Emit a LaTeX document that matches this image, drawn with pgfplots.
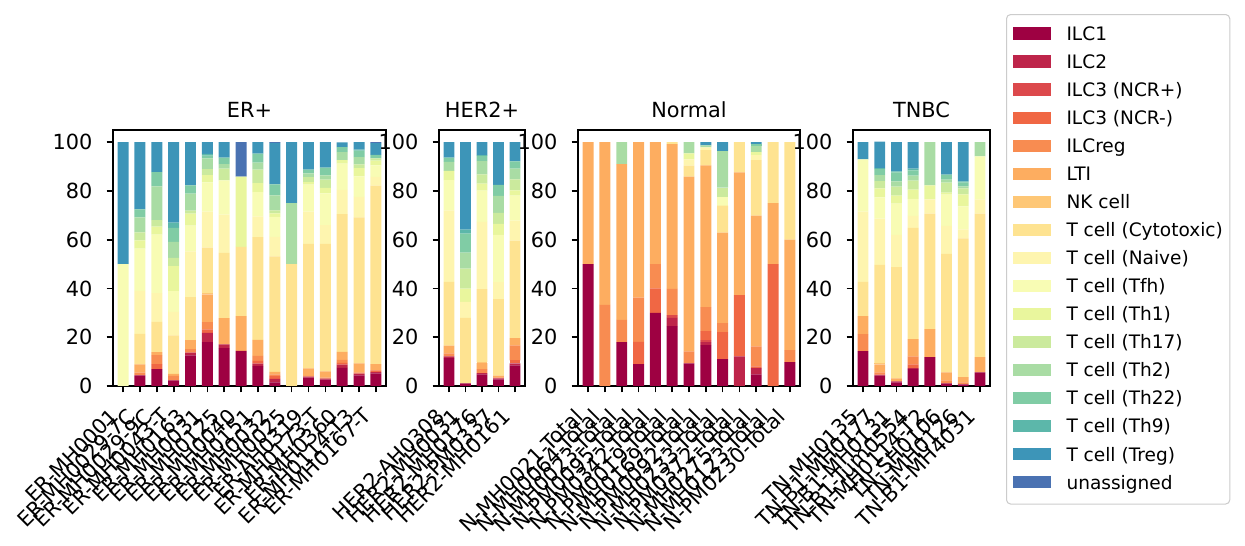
\documentclass[border=0pt]{standalone}
\usepackage{fontspec}
\setmainfont{DejaVu Sans}
\usepackage{pgfplots}
\usepackage{pgfplotstable}
\pgfplotsset{compat=1.18}
\definecolor{col1}{HTML}{9E0142}
\definecolor{col2}{HTML}{BE254A}
\definecolor{col3}{HTML}{DC494C}
\definecolor{col4}{HTML}{F06744}
\definecolor{col5}{HTML}{F88C51}
\definecolor{col6}{HTML}{FDAD60}
\definecolor{col7}{HTML}{FEC776}
\definecolor{col8}{HTML}{FEE391}
\definecolor{col9}{HTML}{FEF5AF}
\definecolor{col10}{HTML}{F8FCB4}
\definecolor{col11}{HTML}{E9F69D}
\definecolor{col12}{HTML}{CBEA9D}
\definecolor{col13}{HTML}{A9DCA4}
\definecolor{col14}{HTML}{80CCA5}
\definecolor{col15}{HTML}{5CB7AA}
\definecolor{col16}{HTML}{3D95B8}
\definecolor{col17}{HTML}{4A72B2}

% columns: ILC1 ILC2 ILC3(NCR+) ILC3(NCR-) ILCreg LTI NK Cyto Naive Tfh Th1 Th17 Th2 Th22 Th9 Treg unassigned
\pgfplotstableread{
c1 c2 c3 c4 c5 c6 c7 c8 c9 c10 c11 c12 c13 c14 c15 c16 c17
0 0 0 0 0 0 0 0 0 50 0 0 0 0 0 50 0
4.4 0 0 0 1.1 3.4 0 12.5 17.6 17.3 3.4 3.3 6.2 3.2 0 27.6 0
6.9 0 0 2.1 3.7 1.2 0 12.4 11.8 24.0 3.3 2.6 13.9 5.8 0 12.3 0
2.3 0 0 0 1.9 0.8 0 15.8 9.6 8.5 10.3 3.3 6.6 5.8 2.1 33.0 0
12.6 1.1 0 0 1.4 3.7 0 17.7 18.7 10.6 4.9 1.2 7.0 3.4 0 17.7 0
18.0 3.8 0 1.4 3.0 11.4 0.4 18.8 14.7 12.0 3.0 2.5 4.4 1.1 0.7 4.8 0
15.5 1.6 0 0 0 10.7 0 26.8 15.7 14.0 0 4.9 1.8 2.7 0 6.3 0
14.4 0 0 0 0 14.3 0 28.4 0 0 28.8 0 0 0 0 0 14.1
8.2 1.0 0 1.1 2.1 6.5 0 42.2 8.5 9.9 3.7 5.5 2.9 3.7 0 4.7 0
1.5 1.4 0 1.2 0.7 1.0 0 47.4 8.0 8.2 1.4 1.2 6.2 4.5 0 17.0 0.3
0 0 0 0 0 0 0 50.0 0 0 0 0 25.0 0 0 25.0 0
3.4 0.4 0 0 0.4 3.0 0 51.1 13.2 11.1 1.0 2.1 1.5 1.5 0 11.3 0
2.6 0.4 0 0 0.4 2.6 0 52.3 7.7 13.0 2.3 3.3 1.8 3.2 0 10.4 0
7.4 1.4 0 0.7 1.2 3.3 0 56.5 9.9 10.8 1.4 0 3.3 2.1 0 1.9 0
4.4 0.7 0 0 0.5 3.7 0 59.9 8.4 8.4 3.4 1.5 3.0 2.6 0.5 3.0 0
5.2 0.5 0 0.7 0 2.6 0 73.2 3.6 4.7 1.9 1.0 0 1.4 0 4.8 0.4
}\ERtab

\pgfplotstableread{
c1 c2 c3 c4 c5 c6 c7 c8 c9 c10 c11 c12 c13 c14 c15 c16 c17
11.4 0.8 0 0 1.2 3.2 0 26.1 29.3 12.4 3.8 0 3.7 1.8 0 6.3 0
1.1 0 0 0 0 0 0 26.8 6.6 0 5.4 8.2 6.6 7.8 1.6 35.9 0
4.8 0.5 0 0 1.6 2.5 0.4 29.9 27.6 12.8 2.9 3.8 5.4 2.2 0.3 5.3 0
2.7 0.4 0 0 0.4 0.8 0 31.3 7.0 19.4 4.5 4.5 7.0 4.5 0 17.5 0
8.5 0.8 0 1.2 6.2 2.9 0 40.0 8.2 10.3 2.1 4.5 4.5 2.9 0 7.9 0
}\HERtab

\pgfplotstableread{
c1 c2 c3 c4 c5 c6 c7 c8 c9 c10 c11 c12 c13 c14 c15 c16 c17
50.0 0 0 0 0 50.0 0 0 0 0 0 0 0 0 0 0 0
0 0 0 0 33.3 66.7 0 0 0 0 0 0 0 0 0 0 0
18.0 0 0 0 9.1 63.9 0 0 0 0 0 0 9.0 0 0 0 0
9.0 0 0 9.1 18.1 63.8 0 0 0 0 0 0 0 0 0 0 0
30.0 0 0 10.0 10.0 50.0 0 0 0 0 0 0 0 0 0 0 0
24.6 3.3 1.2 0 10.7 59.4 0 0.8 0 0 0 0 0 0 0 0 0
9.3 0 0 0 4.9 71.7 0 4.5 2.5 0 2.5 0 4.6 0 0 0 0
16.8 1.2 0.8 3.7 9.9 58.1 0 6.2 1.2 0 0 0 0.8 0 0 1.3 0
11.0 0 0 11.1 3.7 37.1 0 11.1 0 3.7 0 3.7 14.9 0 0 3.7 0
0 12.2 0 25.1 0 50.3 0 12.4 0 0 0 0 0 0 0 0 0
4.8 2.5 0 0.8 8.2 53.6 0 22.7 2.1 0 1.2 0 2.5 0.8 0 0.8 0
0 0 0 50.0 0 25.0 0 25.0 0 0 0 0 0 0 0 0 0
9.8 0 0 0 4.9 45.3 0 40.0 0 0 0 0 0 0 0 0 0
}\NORMtab

\pgfplotstableread{
c1 c2 c3 c4 c5 c6 c7 c8 c9 c10 c11 c12 c13 c14 c15 c16 c17
14.3 0 0 0 7.0 7.4 0 14.0 28.8 21.5 0 0 0 0 0 7.0 0
4.4 0 0 0.4 0.8 3.3 0.4 40.4 19.0 8.7 3.7 2.9 2.5 2.5 0.4 10.8 0
1.5 0.4 0 0 0 1.2 0 45.7 13.2 12.8 3.3 3.7 2.1 3.7 0.4 12.0 0
6.9 0.4 0 1.6 3.3 7.0 0 45.7 4.9 7.0 3.7 3.7 2.1 2.1 0.8 10.8 0
11.8 0 0 0 0 11.5 0 47.4 5.8 0 5.8 0 17.7 0 0 0 0
1.1 0 0 0 1.2 3.3 0 48.6 11.5 12.8 0.8 4.1 1.2 2.1 0 13.3 0
0.7 0 0 0 0.8 2.1 0 56.9 3.7 9.5 4.9 2.5 0.8 1.6 0.4 16.1 0
5.6 0 0 0 0 6.2 0 58.9 5.8 17.7 0 0 5.8 0 0 0 0
}\TNtab

\pgfplotsset{
  every axis title/.style={at={(0.5,1)}, anchor=base, yshift=6bp, inner sep=0bp},
  panel/.style={
    scale only axis, anchor=south west, height=122.88bp,
    ymin=0, ymax=105, ytick={0,20,...,100},
    ybar stacked, bar width=0.65,
    tick align=outside, tick pos=left, major tick length=3.1bp,
    axis line style={line width=0.8bp, black},
    every tick/.style={black, line width=0.8bp},
    font=\fontsize{10bp}{12bp}\selectfont,
    /pgf/number format/assume math mode=true,
    xticklabel style={xshift=-7bp, yshift=-6.6bp, rotate=45, anchor=north east,
      inner sep=0bp, text height=0.76em, text depth=0.24em},
    yticklabel style={inner sep=0bp, xshift=-6.6bp},
  }
}

\begin{document}
\begin{tikzpicture}
\path[use as bounding box] (0,0) rectangle (597.6bp,262.08bp);

\begin{axis}[panel, at={(54.24bp,76.8bp)}, width=131.04bp,
  xmin=-0.6, xmax=15.6, xtick={0,...,15},
  xticklabels={ER-MH0001,ER-MH0029-7C,ER-MH0029-9C,ER-MH0043-T,ER-MH0163,ER-MH0031,ER-MH0125,ER-MH0040,ER-MH0151,ER-MH0032,ER-MH0025,ER-AH0319,ER-MH0173-T,ER-MH0360,ER-MH0114-T3,ER-MH0167-T},
  title={ER+}]
\pgfplotsinvokeforeach{1,...,17}{\addplot[fill=col#1, draw=none] table[x expr=\coordindex, y=c#1] {\ERtab};}
\end{axis}

\begin{axis}[panel, at={(210.72bp,76.8bp)}, width=41.28bp,
  xmin=-0.6, xmax=4.6, xtick={0,...,4},
  xticklabels={HER2-AH0308,HER2-MH0031,HER2-MH0176,HER2-PM0337,HER2-MH0161},
  title={HER2+}]
\pgfplotsinvokeforeach{1,...,17}{\addplot[fill=col#1, draw=none] table[x expr=\coordindex, y=c#1] {\HERtab};}
\end{axis}

\begin{axis}[panel, at={(277.44bp,76.8bp)}, width=106.56bp,
  xmin=-0.6, xmax=12.6, xtick={0,...,12},
  xticklabels={N-MH0021-Total,N-MH0064-Total,N-MH0023-Total,N-PM0095-Total,N-PM0342-Total,N-PM0019-Total,N-MH0169-Total,N-PM0092-Total,N-MH0233-Total,N-PM0372-Total,N-MH0275-Total,N-MH0123-Total,N-PM0230-Total},
  title={Normal}]
\pgfplotsinvokeforeach{1,...,17}{\addplot[fill=col#1, draw=none] table[x expr=\coordindex, y=c#1] {\NORMtab};}
\end{axis}

\begin{axis}[panel, at={(409.44bp,76.8bp)}, width=65.76bp,
  xmin=-0.6, xmax=7.6, xtick={0,...,7},
  xticklabels={TN-MH0135,TN-B1-MH0177,TN-B1-MH0131,TN-B1-Tum0554,TN-MH0114-T2,TN-SH0106,TN-MH0126,TN-B1-MH4031},
  title={TNBC},
  legend entries={ILC1,ILC2,ILC3 (NCR+),ILC3 (NCR-),ILCreg,LTI,NK cell,T cell (Cytotoxic),T cell (Naive),T cell (Tfh),T cell (Th1),T cell (Th17),T cell (Th2),T cell (Th22),T cell (Th9),T cell (Treg),unassigned},
  legend image code/.code={\fill[#1, sharp corners] (0bp,0.3bp) rectangle (18bp,6.2bp);},
  legend cell align=left,
  legend style={at={(1.1168,1.4531)}, anchor=north west, draw=black!20, line width=0.5bp,
    rounded corners=2bp, fill=white,
    inner xsep=3.3bp, inner ysep=4.8bp, row sep=3.5bp, column sep=7.5bp,
    font=\fontsize{8.9bp}{10.7bp}\selectfont,
    nodes={inner sep=0bp, text height=0.76em, text depth=0.24em, anchor=base west}}]
\pgfplotsinvokeforeach{1,...,17}{\addplot[fill=col#1, draw=none] table[x expr=\coordindex, y=c#1] {\TNtab};}
\end{axis}
\end{tikzpicture}
\end{document}
